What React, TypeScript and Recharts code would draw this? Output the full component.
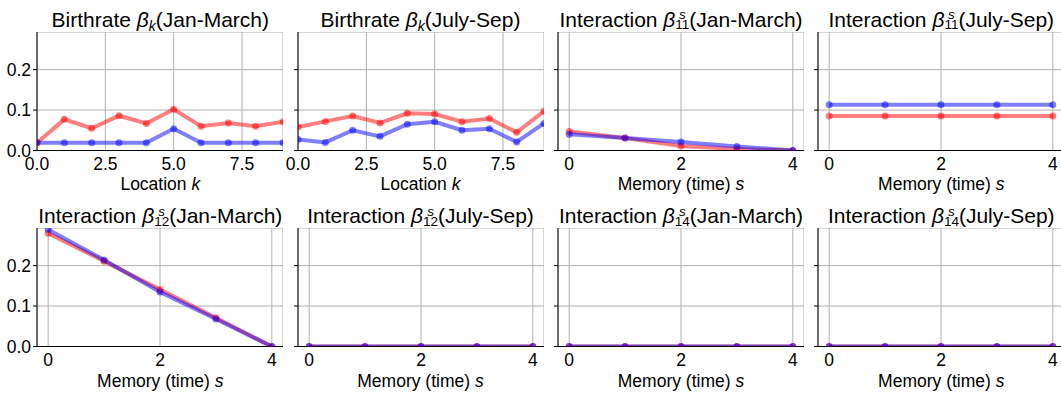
import { ReactNode } from "react";
import { CartesianGrid, Line, LineChart, XAxis, YAxis } from "recharts";

const FONT = '"Liberation Sans", Arial, sans-serif';

// x positions
const locations = [0, 1, 2, 3, 4, 5, 6, 7, 8, 9];
const memory = [0, 1, 2, 3, 4];

// tick values
const locationTicks = [0, 2.5, 5, 7.5];
const memoryTicks = [0, 2, 4];
const yTicks = [0, 0.1, 0.2];
const Y_MAX = 0.293;

// birthrate per location
const birthJanRed = [0.019, 0.077, 0.055, 0.086, 0.067, 0.102, 0.06, 0.068, 0.06, 0.071];
const birthJanBlue = [0.019, 0.019, 0.019, 0.019, 0.019, 0.054, 0.019, 0.019, 0.019, 0.019];
const birthJulRed = [0.058, 0.072, 0.085, 0.068, 0.092, 0.09, 0.071, 0.079, 0.045, 0.097];
const birthJulBlue = [0.027, 0.02, 0.05, 0.035, 0.065, 0.071, 0.05, 0.054, 0.021, 0.067];

// interaction kernels over memory s
const inter11JanRed = [0.047, 0.031, 0.011, 0.004, 0.0];
const inter11JanBlue = [0.04, 0.031, 0.021, 0.01, 0.0];
const inter11JulRed = [0.085, 0.085, 0.085, 0.085, 0.085];
const inter11JulBlue = [0.113, 0.113, 0.113, 0.113, 0.113];
const inter12JanRed = [0.28, 0.211, 0.141, 0.071, 0.0];
const inter12JanBlue = [0.289, 0.214, 0.135, 0.068, 0.0];
const inter12JulRed = [0, 0, 0, 0, 0];
const inter12JulBlue = [0, 0, 0, 0, 0];
const inter14JanRed = [0, 0, 0, 0, 0];
const inter14JanBlue = [0, 0, 0, 0, 0];
const inter14JulRed = [0, 0, 0, 0, 0];
const inter14JulBlue = [0, 0, 0, 0, 0];

const COL_LEFT = [37.3, 297.5, 558, 818.3];
const ROW_TOP = [31.5, 228.2];
const PLOT_W = 246;
const PLOT_H = 118.5;
const Y_W = 40;
const X_H = 30;

const TITLE_PX = 21;
const LABEL_PX = 17.5;

const zip = (xs: number[], red: number[], blue: number[]) =>
    xs.map((x, i) => ({ x, red: red[i], blue: blue[i] }));

function BirthTitle({ season }: { season: string }) {
    return (
        <>
            Birthrate <i>β</i>
            <span style={{ fontSize: 14, verticalAlign: -4, fontStyle: "italic" }}>k</span>({season})
        </>
    );
}

// β with s stacked over the index, like β^s_{11}
function InterTitle({ idx, season }: { idx: string; season: string }) {
    return (
        <>
            Interaction <i>β</i>
            <span
                style={{
                    display: "inline-flex",
                    flexDirection: "column",
                    fontSize: 13.5,
                    lineHeight: "10px",
                    verticalAlign: 7.5,
                }}
            >
                <i>s</i>
                <span>{idx}</span>
            </span>
            ({season})
        </>
    );
}

interface PanelProps {
    left: number;
    top: number;
    data: { x: number; red: number; blue: number }[];
    xDomain: [number, number];
    xTicks: number[];
    xFormat: (v: number) => string;
    showY: boolean;
    title: ReactNode;
    xLabel: ReactNode;
}

function Panel({ left, top, data, xDomain, xTicks, xFormat, showY, title, xLabel }: PanelProps) {
    const tickStyle = { fill: "#000", fontSize: LABEL_PX, fontFamily: FONT };
    return (
        <>
            <div
                style={{
                    position: "absolute",
                    left: left - 20,
                    top: top - 5 - 17.8,
                    width: PLOT_W + 40,
                    textAlign: "center",
                    fontSize: TITLE_PX,
                    lineHeight: `${TITLE_PX}px`,
                    whiteSpace: "nowrap",
                }}
            >
                {title}
            </div>
            <div style={{ position: "absolute", left: left - Y_W, top }}>
                <LineChart
                    width={Y_W + PLOT_W}
                    height={PLOT_H + X_H}
                    data={data}
                    margin={{ top: 0, right: 0, bottom: 0, left: 0 }}
                >
                    <CartesianGrid stroke="#b0b0b0" strokeWidth={1} />
                    <XAxis
                        dataKey="x"
                        type="number"
                        domain={xDomain}
                        ticks={xTicks}
                        interval={0}
                        allowDataOverflow
                        tickFormatter={xFormat}
                        axisLine={{ stroke: "#000" }}
                        tickLine={false}
                        tickSize={4}
                        tickMargin={3}
                        height={X_H}
                        tick={tickStyle}
                    />
                    <XAxis
                        xAxisId="top"
                        orientation="top"
                        dataKey="x"
                        type="number"
                        domain={xDomain}
                        height={0}
                        tick={false}
                        tickLine={false}
                        axisLine={{ stroke: "#000" }}
                    />
                    <YAxis
                        type="number"
                        domain={[0, Y_MAX]}
                        ticks={yTicks}
                        interval={0}
                        allowDataOverflow
                        tickFormatter={showY ? (v: number) => v.toFixed(1) : () => ""}
                        width={Y_W}
                        axisLine={{ stroke: "#000" }}
                        tickLine={{ stroke: "#000" }}
                        tickSize={4}
                        tickMargin={2}
                        tick={tickStyle}
                    />
                    <YAxis
                        yAxisId="right"
                        orientation="right"
                        type="number"
                        domain={[0, Y_MAX]}
                        width={0}
                        tick={false}
                        tickLine={false}
                        axisLine={{ stroke: "#000" }}
                    />
                    <Line
                        type="linear"
                        dataKey="red"
                        stroke="#ff0000"
                        strokeOpacity={0.5}
                        strokeWidth={4}
                        dot={{ r: 3.5, fill: "#ff0000", fillOpacity: 0.5, stroke: "none" }}
                        isAnimationActive={false}
                    />
                    <Line
                        type="linear"
                        dataKey="blue"
                        stroke="#0000ff"
                        strokeOpacity={0.5}
                        strokeWidth={4}
                        dot={{ r: 3.5, fill: "#0000ff", fillOpacity: 0.5, stroke: "none" }}
                        isAnimationActive={false}
                    />
                </LineChart>
            </div>
            <div
                style={{
                    position: "absolute",
                    left,
                    top: top + PLOT_H + 41 - 14.8,
                    width: PLOT_W,
                    textAlign: "center",
                    fontSize: LABEL_PX,
                    lineHeight: `${LABEL_PX}px`,
                    whiteSpace: "nowrap",
                }}
            >
                {xLabel}
            </div>
        </>
    );
}

const locFmt = (v: number) => v.toFixed(1);
const memFmt = (v: number) => String(v);
const locLabel = <>Location <i>k</i></>;
const memLabel = <>Memory (time) <i>s</i></>;

export default function App() {
    const loc = { xDomain: [0, 9] as [number, number], xTicks: locationTicks, xFormat: locFmt, xLabel: locLabel };
    const mem = { xDomain: [-0.2, 4.2] as [number, number], xTicks: memoryTicks, xFormat: memFmt, xLabel: memLabel };
    return (
        <div
            style={{
                position: "absolute",
                left: 0,
                top: 0,
                width: 1061,
                height: 397,
                overflow: "hidden",
                background: "#fff",
                fontFamily: FONT,
                color: "#000",
            }}
        >
            <Panel {...loc} left={COL_LEFT[0]} top={ROW_TOP[0]} showY
                data={zip(locations, birthJanRed, birthJanBlue)}
                title={<BirthTitle season="Jan-March" />} />
            <Panel {...loc} left={COL_LEFT[1]} top={ROW_TOP[0]} showY={false}
                data={zip(locations, birthJulRed, birthJulBlue)}
                title={<BirthTitle season="July-Sep" />} />
            <Panel {...mem} left={COL_LEFT[2]} top={ROW_TOP[0]} showY={false}
                data={zip(memory, inter11JanRed, inter11JanBlue)}
                title={<InterTitle idx="11" season="Jan-March" />} />
            <Panel {...mem} left={COL_LEFT[3]} top={ROW_TOP[0]} showY={false}
                data={zip(memory, inter11JulRed, inter11JulBlue)}
                title={<InterTitle idx="11" season="July-Sep" />} />
            <Panel {...mem} left={COL_LEFT[0]} top={ROW_TOP[1]} showY
                data={zip(memory, inter12JanRed, inter12JanBlue)}
                title={<InterTitle idx="12" season="Jan-March" />} />
            <Panel {...mem} left={COL_LEFT[1]} top={ROW_TOP[1]} showY={false}
                data={zip(memory, inter12JulRed, inter12JulBlue)}
                title={<InterTitle idx="12" season="July-Sep" />} />
            <Panel {...mem} left={COL_LEFT[2]} top={ROW_TOP[1]} showY={false}
                data={zip(memory, inter14JanRed, inter14JanBlue)}
                title={<InterTitle idx="14" season="Jan-March" />} />
            <Panel {...mem} left={COL_LEFT[3]} top={ROW_TOP[1]} showY={false}
                data={zip(memory, inter14JulRed, inter14JulBlue)}
                title={<InterTitle idx="14" season="July-Sep" />} />
        </div>
    );
}
